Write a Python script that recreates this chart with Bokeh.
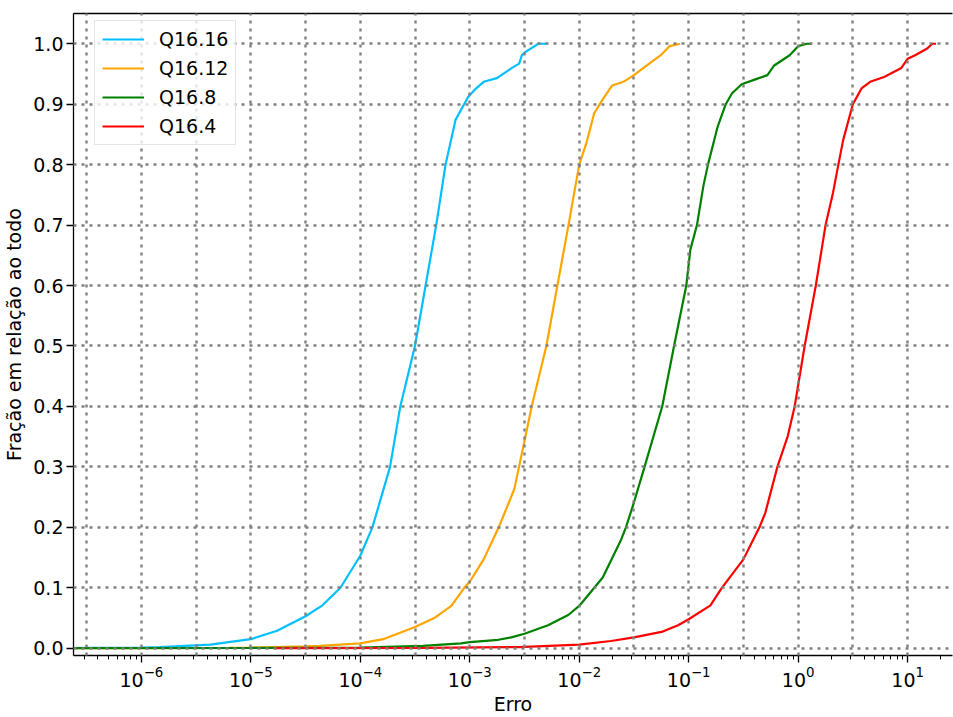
from bokeh.plotting import figure
from bokeh.models import Range1d, FixedTicker, Grid, LogAxis, PrintfTickFormatter
from bokeh.embed import file_html
from bokeh.resources import INLINE

# ---- data (error value, cumulative fraction) ----
q16_16_err = [1.0e-7, 3.16e-7, 1.0e-6, 1.48e-6, 4.27e-6, 1.0e-5, 1.74e-5, 3.16e-5, 4.44e-5,
              6.59e-5, 1.0e-4, 1.29e-4, 1.87e-4, 2.32e-4, 3.16e-4, 3.95e-4, 4.94e-4, 6.01e-4,
              7.41e-4, 9.66e-4, 1.11e-3, 1.34e-3, 1.77e-3, 2.43e-3, 2.83e-3, 2.99e-3, 3.21e-3,
              4.24e-3, 5.05e-3]
q16_16_frac = [0.0, 0.0005, 0.001, 0.002, 0.006, 0.015, 0.029, 0.053, 0.070,
               0.100, 0.153, 0.200, 0.300, 0.400, 0.500, 0.600, 0.700, 0.800,
               0.874, 0.912, 0.924, 0.937, 0.943, 0.960, 0.967, 0.981, 0.986,
               1.0, 1.0]

q16_12_err = [1.0e-7, 6.3e-6, 1.0e-5, 3.16e-5, 4.27e-5, 1.0e-4, 1.62e-4, 3.16e-4, 4.84e-4,
              6.79e-4, 8.91e-4, 1.0e-3, 1.34e-3, 1.84e-3, 2.55e-3, 2.82e-3, 3.68e-3, 5.01e-3,
              6.32e-3, 7.98e-3, 1.0e-2, 1.16e-2, 1.37e-2, 1.63e-2, 2.0e-2, 2.53e-2, 3.16e-2,
              4.15e-2, 5.56e-2, 6.68e-2, 8.32e-2]
q16_12_frac = [0.0, 0.0005, 0.001, 0.003, 0.004, 0.008, 0.015, 0.035, 0.051,
               0.070, 0.100, 0.110, 0.147, 0.200, 0.263, 0.300, 0.400, 0.500,
               0.600, 0.700, 0.800, 0.835, 0.885, 0.907, 0.931, 0.937, 0.948,
               0.964, 0.981, 0.996, 1.0]

q16_8_err = [1.0e-7, 1.0e-5, 1.0e-4, 3.72e-4, 8.32e-4, 1.0e-3, 1.82e-3, 2.40e-3, 3.16e-3,
             5.19e-3, 7.94e-3, 1.0e-2, 1.64e-2, 2.42e-2, 2.67e-2, 3.16e-2, 3.95e-2, 5.73e-2,
             7.35e-2, 9.51e-2, 0.1035, 0.119, 0.136, 0.150, 0.184, 0.218, 0.249, 0.305,
             0.406, 0.524, 0.604, 0.836, 1.0, 1.20, 1.33]
q16_8_frac = [0.0, 0.0005, 0.001, 0.004, 0.008, 0.010, 0.014, 0.018, 0.024,
              0.038, 0.055, 0.070, 0.117, 0.180, 0.200, 0.241, 0.300, 0.400,
              0.500, 0.600, 0.659, 0.700, 0.764, 0.800, 0.863, 0.900, 0.918, 0.933,
              0.941, 0.948, 0.964, 0.981, 0.996, 1.0, 1.0]

q16_4_err = [1.62e-5, 3.98e-4, 2.82e-3, 1.0e-2, 1.95e-2, 3.16e-2, 5.65e-2, 8.0e-2, 0.100,
             0.158, 0.201, 0.316, 0.443, 0.501, 0.646, 0.804, 0.929, 1.146, 1.45, 1.78, 2.08,
             2.33, 2.58, 3.16, 3.79, 4.55, 6.10, 8.77, 10.0, 11.7, 15.1, 16.8, 18.2]
q16_4_frac = [0.0, 0.0005, 0.002, 0.006, 0.012, 0.018, 0.027, 0.038, 0.048,
              0.071, 0.100, 0.147, 0.200, 0.224, 0.300, 0.351, 0.400, 0.500, 0.600, 0.700, 0.753,
              0.800, 0.841, 0.900, 0.926, 0.937, 0.945, 0.960, 0.975, 0.981, 0.992, 1.0, 1.0]

series_names = ["Q16.16", "Q16.12", "Q16.8", "Q16.4"]
series_colors = ["#00bfff", "#ffa500", "#008000", "#ff0000"]

y_ticks = [0.0, 0.1, 0.2, 0.3, 0.4, 0.5, 0.6, 0.7, 0.8, 0.9, 1.0]
x_grid_ticks = [3.162e-7, 1e-6, 3.162e-6, 1e-5, 3.162e-5, 1e-4, 3.162e-4, 1e-3, 3.162e-3,
                1e-2, 3.162e-2, 1e-1, 3.162e-1, 1.0, 3.162, 10.0]

FONT = "DejaVu Sans"
FS = "19px"

p = figure(width=953, height=717, x_axis_type="log",
           x_range=Range1d(2.4e-7, 25.7), y_range=Range1d(-0.012, 1.05),
           output_backend="svg", toolbar_location=None,
           min_border_left=0, min_border_right=1, min_border_top=13, min_border_bottom=0)

p.outline_line_color = None
p.background_fill_color = "white"
p.border_fill_color = "white"

xs = [q16_16_err, q16_12_err, q16_8_err, q16_4_err]
ys = [q16_16_frac, q16_12_frac, q16_8_frac, q16_4_frac]
for x, y, name, col in zip(xs, ys, series_names, series_colors):
    p.line(x, y, line_color=col, line_width=2.2, legend_label=name)

# axes
xa = p.xaxis[0]
xa.axis_label = "Erro"
ya = p.yaxis[0]
ya.axis_label = "Fração em relação ao todo"
ya.ticker = FixedTicker(ticks=y_ticks)
ya.formatter = PrintfTickFormatter(format="%.1f")
for ax in (xa, ya):
    ax.axis_label_text_font = FONT
    ax.axis_label_text_font_size = FS
    ax.axis_label_text_font_style = "normal"
    ax.axis_label_text_color = "black"
    ax.major_label_text_font = FONT
    ax.major_label_text_font_size = FS
    ax.major_label_text_color = "black"
    ax.axis_line_color = "black"
    ax.axis_line_width = 1.3
    ax.major_tick_line_color = "black"
    ax.major_tick_line_width = 1.3
    ax.minor_tick_line_color = "black"
    ax.major_tick_in = 0
    ax.major_tick_out = 7
    ax.minor_tick_in = 0
    ax.minor_tick_out = 4
ya.major_label_standoff = 3
ya.axis_label_standoff = 5
xa.major_label_standoff = 3
xa.axis_label_standoff = 3

# top spine
top = LogAxis(ticker=FixedTicker(ticks=[]), major_label_text_font_size="0px",
              axis_line_color="black", axis_line_width=1.3,
              major_tick_line_color=None, minor_tick_line_color=None)
p.add_layout(top, "above")

# grids
p.xgrid.grid_line_color = None
p.ygrid.ticker = FixedTicker(ticks=y_ticks)
p.ygrid.grid_line_color = "#808080"
p.ygrid.grid_line_width = 2.4
p.ygrid.grid_line_dash = "3 5"
p.ygrid.level = "guide"
xg = Grid(dimension=0, ticker=FixedTicker(ticks=x_grid_ticks), grid_line_color="#808080",
          grid_line_width=2.4, grid_line_dash="3 5", level="guide")
p.add_layout(xg, "center")

# legend
lg = p.legend[0]
lg.location = (21, 510)
lg.margin = 0
lg.padding = 7
lg.spacing = 7
lg.glyph_width = 42
lg.glyph_height = 20
lg.label_height = 20
lg.label_standoff = 15
lg.label_text_font = FONT
lg.label_text_font_size = FS
lg.label_text_color = "black"
lg.border_line_color = "#cccccc"
lg.border_line_width = 1.3
lg.background_fill_alpha = 0.8

open("out.html", "w").write(file_html(p, INLINE))
